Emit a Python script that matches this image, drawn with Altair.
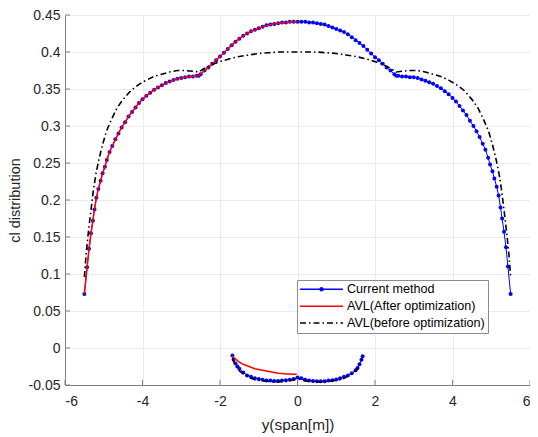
import altair as alt
import pandas as pd

# ---------------- data ----------------
series_names = ["Current method", "AVL(After optimization)", "AVL(before optimization)"]
series_colors = ["#0000ff", "#ff0000", "#000000"]

x_ticks = [-6, -4, -2, 0, 2, 4, 6]
y_ticks = [-0.05, 0, 0.05, 0.1, 0.15, 0.2, 0.25, 0.3, 0.35, 0.4, 0.45]

# wing: |span| stations (m), tip -> root
wing_abs_x = [5.50, 5.43, 5.38, 5.33, 5.28, 5.24, 5.19, 5.14, 5.08, 5.03, 4.97, 4.92,
              4.85, 4.78, 4.70, 4.62, 4.54, 4.45, 4.36, 4.27, 4.18, 4.09, 4.00, 3.90,
              3.80, 3.70, 3.60, 3.50, 3.40, 3.30, 3.20, 3.10, 3.00, 2.90, 2.80, 2.70,
              2.60, 2.55, 2.50, 2.40, 2.30, 2.20, 2.10, 2.00, 1.90, 1.80, 1.70, 1.60,
              1.50, 1.40, 1.30, 1.20, 1.10, 1.00, 0.90, 0.80, 0.70, 0.60, 0.50, 0.40,
              0.30, 0.20, 0.10, 0.00]
# current method, left wing (same stations)
cur_wing_left = [0.073, 0.109, 0.134, 0.155, 0.172, 0.187, 0.203, 0.215, 0.226, 0.236, 0.245, 0.254,
                 0.265, 0.273, 0.282, 0.290, 0.298, 0.305, 0.313, 0.319, 0.325, 0.331, 0.336, 0.341,
                 0.345, 0.349, 0.352, 0.355, 0.358, 0.360, 0.362, 0.364, 0.365, 0.366, 0.367, 0.367,
                 0.368, 0.368, 0.370, 0.375, 0.379, 0.384, 0.389, 0.394, 0.399, 0.404, 0.409, 0.414,
                 0.418, 0.422, 0.425, 0.428, 0.430, 0.432, 0.434, 0.436, 0.437, 0.438, 0.439, 0.440,
                 0.440, 0.441, 0.441, 0.441]
# current method, right wing (same stations)
cur_wing_right = [0.073, 0.110, 0.136, 0.157, 0.175, 0.190, 0.206, 0.218, 0.229, 0.239, 0.248, 0.257,
                  0.268, 0.276, 0.285, 0.293, 0.300, 0.307, 0.315, 0.321, 0.327, 0.333, 0.338, 0.343,
                  0.347, 0.351, 0.354, 0.357, 0.359, 0.361, 0.363, 0.365, 0.366, 0.366, 0.367, 0.367,
                  0.368, 0.368, 0.370, 0.375, 0.379, 0.384, 0.389, 0.393, 0.398, 0.403, 0.408, 0.412,
                  0.416, 0.420, 0.424, 0.427, 0.429, 0.431, 0.433, 0.435, 0.437, 0.438, 0.439, 0.440,
                  0.440, 0.441, 0.441, 0.441]
# AVL after optimization (left half only), coincides with the current method
avl_after_wing = [0.073, 0.109, 0.134, 0.155, 0.172, 0.187, 0.203, 0.215, 0.226, 0.236, 0.245, 0.254,
                  0.265, 0.273, 0.282, 0.290, 0.298, 0.305, 0.313, 0.319, 0.325, 0.331, 0.336, 0.341,
                  0.345, 0.349, 0.352, 0.355, 0.358, 0.360, 0.362, 0.364, 0.365, 0.366, 0.367, 0.367,
                  0.368, 0.368, 0.370, 0.375, 0.379, 0.384, 0.389, 0.394, 0.399, 0.404, 0.409, 0.414,
                  0.418, 0.422, 0.425, 0.428, 0.430, 0.432, 0.434, 0.436, 0.437, 0.438, 0.439, 0.440,
                  0.440, 0.441, 0.441, 0.441]
# AVL before optimization, wing
before_abs_x = [5.50, 5.45, 5.40, 5.34, 5.27, 5.20, 5.12, 5.03, 4.93, 4.80, 4.65, 4.50, 4.30,
                4.10, 3.90, 3.70, 3.50, 3.30, 3.10, 2.90, 2.70, 2.55, 2.40, 2.20, 2.00, 1.75,
                1.50, 1.25, 1.00, 0.75, 0.50, 0.25, 0.00]
before_wing = [0.096, 0.130, 0.155, 0.182, 0.212, 0.236, 0.256, 0.275, 0.293, 0.309, 0.325, 0.336, 0.348,
               0.356, 0.362, 0.367, 0.370, 0.373, 0.375, 0.375, 0.374, 0.373, 0.378, 0.383, 0.387, 0.391,
               0.394, 0.396, 0.398, 0.399, 0.400, 0.400, 0.400]

# tail (lower curves)
cur_tail_x = [-1.68, -1.65, -1.60, -1.55, -1.50, -1.40, -1.30, -1.20, -1.10, -1.00, -0.90, -0.80, -0.70,
              -0.60, -0.50, -0.40, -0.30, -0.20, -0.10, 0.00, 0.10, 0.20, 0.30, 0.40, 0.50, 0.60, 0.70,
              0.80, 0.90, 1.00, 1.10, 1.20, 1.30, 1.40, 1.50, 1.55, 1.60, 1.65, 1.68]
cur_tail_y = [-0.010, -0.016, -0.021, -0.025, -0.028, -0.033, -0.037, -0.039, -0.041, -0.042, -0.043,
              -0.044, -0.044, -0.0445, -0.0445, -0.044, -0.0435, -0.043, -0.042, -0.040, -0.041, -0.043,
              -0.044, -0.0445, -0.045, -0.045, -0.0448, -0.044, -0.0435, -0.0425, -0.041, -0.039,
              -0.037, -0.034, -0.030, -0.027, -0.022, -0.016, -0.011]
after_tail_x = [-1.68, -1.60, -1.50, -1.40, -1.30, -1.20, -1.10, -1.00, -0.90, -0.80, -0.70, -0.60,
                -0.50, -0.40, -0.30, -0.20, -0.10, -0.02]
after_tail_y = [-0.011, -0.015, -0.019, -0.022, -0.024, -0.026, -0.028, -0.029, -0.030, -0.031, -0.032,
                -0.033, -0.034, -0.0345, -0.035, -0.0352, -0.0355, -0.0355]
before_tail_x = [-1.68, -1.63, -1.57, -1.50, -1.40, -1.30, -1.20, -1.10, -0.95, -0.80, -0.60, -0.40,
                 -0.25, -0.10, 0.00, 0.10, 0.25, 0.40, 0.60, 0.80, 0.95, 1.10, 1.20, 1.30, 1.40, 1.50,
                 1.57, 1.63, 1.68]
before_tail_y = [-0.014, -0.020, -0.026, -0.031, -0.035, -0.038, -0.041, -0.043, -0.044, -0.045, -0.046,
                 -0.0455, -0.045, -0.043, -0.042, -0.043, -0.045, -0.0455, -0.046, -0.045, -0.044, -0.043,
                 -0.041, -0.038, -0.035, -0.031, -0.026, -0.020, -0.014]

# ---------------- build tables ----------------
def frame(series, part, xs, ys):
    return pd.DataFrame({"series": series, "part": part, "x": xs, "y": ys})

cur_x = [-a for a in wing_abs_x] + wing_abs_x[-2::-1]
cur_y = cur_wing_left + cur_wing_right[-2::-1]
bef_x = [-a for a in before_abs_x] + before_abs_x[-2::-1]
bef_y = before_wing + before_wing[-2::-1]

df_cur = pd.concat([frame(series_names[0], "wing", cur_x, cur_y),
                    frame(series_names[0], "tail", cur_tail_x, cur_tail_y)])
df_after = pd.concat([frame(series_names[1], "wing", [-a for a in wing_abs_x], avl_after_wing),
                      frame(series_names[1], "tail", after_tail_x, after_tail_y)])
df_before = pd.concat([frame(series_names[2], "wing", bef_x, bef_y),
                       frame(series_names[2], "tail", before_tail_x, before_tail_y)])

FONT = "Liberation Sans"
AX = "#808080"
TXT = "#262626"
W, H = 465, 370

xscale = alt.Scale(domain=[-6, 6], nice=False, zero=False)
yscale = alt.Scale(domain=[-0.05, 0.45], nice=False, zero=False)

line_path = "M-1.26,0L7.34,0"
dot_path = "M-1.26,0L7.34,0M2.74,0A0.3,0.3,0,1,0,3.34,0A0.3,0.3,0,1,0,2.74,0Z"

legend = alt.Legend(
    title=None, orient="none", legendX=232, legendY=265,
    symbolType={"expr": "datum.value == 'Current method' ? '" + dot_path + "' : '" + line_path + "'"},
    symbolDash={"expr": "datum.value == 'AVL(before optimization)' ? [6,3,1.5,3] : [1,0]"},
    symbolSize=100, symbolStrokeWidth=1.5,
    labelOffset=34.4, labelFontSize=12.6, labelFont=FONT, labelColor="#000000", labelLimit=400,
    padding=3, rowPadding=3.9, strokeColor="#8c8c8c", fillColor="#ffffff",
)

color = alt.Color("series:N", scale=alt.Scale(domain=series_names, range=series_colors), legend=legend)

x_axis = alt.Axis(values=x_ticks, title="y(span[m])", labelExpr="toString(datum.value)",
                  tickSize=0, grid=True, gridColor="#ebebeb", domainColor=AX, labelOverlap=False,
                  labelFont=FONT, labelFontSize=14, labelColor=TXT, labelPadding=9,
                  titleFont=FONT, titleFontSize=15.4, titleColor=TXT, titleFontWeight="normal",
                  titleBaseline="alphabetic", titleX=W / 2, titleY=44.5)
y_axis = alt.Axis(values=y_ticks, title="cl distribution",
                  labelExpr="toString(round(datum.value*100)/100)",
                  tickSize=0, grid=True, gridColor="#ebebeb", domainColor=AX, labelOverlap=False,
                  labelFont=FONT, labelFontSize=14, labelColor=TXT, labelPadding=5,
                  titleFont=FONT, titleFontSize=14.5, titleColor=TXT, titleFontWeight="normal",
                  titleAngle=270, titleBaseline="alphabetic", titleX=-45.5, titleY=H / 2)

base_enc = dict(
    x=alt.X("x:Q", scale=xscale, axis=x_axis),
    y=alt.Y("y:Q", scale=yscale, axis=y_axis),
    detail="part:N",
    color=color,
)

cur_line = alt.Chart(df_cur).mark_line(strokeWidth=1).encode(**base_enc)
cur_pts = alt.Chart(df_cur).mark_circle(size=16, color="#0000ff", opacity=1).encode(
    x=alt.X("x:Q", scale=xscale, axis=x_axis), y=alt.Y("y:Q", scale=yscale, axis=y_axis))
after_line = alt.Chart(df_after).mark_line(strokeWidth=1.5).encode(**base_enc)
before_line = alt.Chart(df_before).mark_line(strokeWidth=1.6, strokeDash=[6, 3, 1.5, 3]).encode(**base_enc)

yt = pd.DataFrame({"v": y_ticks})
xt = pd.DataFrame({"v": x_ticks})
y_tick_marks = alt.Chart(yt).mark_rule(color=AX, strokeWidth=1).encode(
    y=alt.Y("v:Q", scale=yscale, axis=y_axis), x=alt.value(0), x2=alt.value(5))
x_tick_marks = alt.Chart(xt).mark_rule(color=AX, strokeWidth=1).encode(
    x=alt.X("v:Q", scale=xscale, axis=x_axis), y=alt.value(H), y2=alt.value(H - 5))

chart = alt.layer(cur_line, cur_pts, after_line, before_line, y_tick_marks, x_tick_marks).properties(
    width=W, height=H,
    autosize=alt.AutoSizeParams(type="none"),
    padding={"left": 57, "top": 7, "right": 0, "bottom": 50},
    background="#ffffff",
).configure_view(stroke=None)

chart.save("out.html", embed_options={"renderer": "svg", "actions": False})
